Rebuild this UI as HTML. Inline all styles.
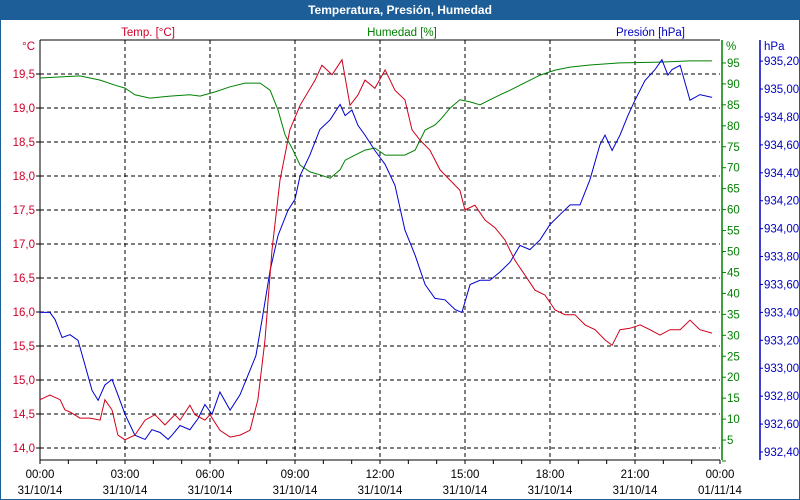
<!DOCTYPE html>
<html><head><meta charset="utf-8"><style>
body{margin:0;background:#fff;}
svg{display:block;font-family:"Liberation Sans",sans-serif;font-size:11.5px;}
</style></head><body>
<svg id="chart" width="800" height="500">
<rect x="0" y="0" width="800" height="500" fill="#fff" stroke="#1d5e99" stroke-width="2"/>
<rect x="0" y="0" width="800" height="20" fill="#1d5e99"/>
<text x="400" y="14" text-anchor="middle" fill="#fff" font-weight="bold" font-size="12">Temperatura, Presión, Humedad</text>
<text x="148" y="36" text-anchor="middle" fill="#d0002a">Temp. [°C]</text>
<text x="402" y="36" text-anchor="middle" fill="#008000">Humedad [%]</text>
<text x="685" y="36" text-anchor="end" fill="#0000c0">Presión [hPa]</text>
<text x="35" y="50" text-anchor="end" fill="#d0002a">°C</text>
<text x="726" y="50" fill="#008000">%</text>
<text x="764" y="50" fill="#0000c0">hPa</text>
<g id="grid"></g><g id="axes"></g><g id="series"></g>
</svg>
<script>
const tempTicks=[14.0,14.5,15.0,15.5,16.0,16.5,17.0,17.5,18.0,18.5,19.0,19.5];
const humTicks=[0,5,10,15,20,25,30,35,40,45,50,55,60,65,70,75,80,85,90,95];
const presTicks=[932.4,932.6,932.8,933.0,933.2,933.4,933.6,933.8,934.0,934.2,934.4,934.6,934.8,935.0,935.2];
const timeTicks=[0,3,6,9,12,15,18,21,24];
const timeLabels=["00:00","03:00","06:00","09:00","12:00","15:00","18:00","21:00","00:00"];
const dateLabels=["31/10/14","31/10/14","31/10/14","31/10/14","31/10/14","31/10/14","31/10/14","31/10/14","01/11/14"];
const tempTime=[0,.35,.71,.88,1.06,1.41,1.76,2.12,2.29,2.54,2.75,3.0,3.35,3.71,4.06,4.41,4.76,4.94,5.29,5.47,5.82,6.0,6.35,6.71,7.06,7.41,7.69,7.94,8.19,8.47,8.82,9.18,9.71,9.95,10.31,10.66,10.94,11.22,11.47,11.82,12.18,12.53,12.88,13.13,13.41,13.76,14.12,14.47,14.82,15.0,15.35,15.71,16.06,16.41,16.76,17.12,17.47,17.82,18.18,18.53,18.88,19.24,19.59,19.94,20.19,20.47,20.82,21.18,21.53,21.88,22.24,22.59,22.94,23.29,23.72];
const tempValues=[14.71,14.78,14.71,14.56,14.53,14.44,14.44,14.41,14.71,14.56,14.19,14.12,14.19,14.41,14.49,14.34,14.49,14.41,14.63,14.49,14.41,14.49,14.26,14.16,14.19,14.26,14.71,15.59,16.91,17.94,18.68,19.04,19.41,19.63,19.49,19.71,19.04,19.19,19.41,19.29,19.56,19.26,19.12,18.68,18.53,18.38,18.09,17.94,17.79,17.50,17.57,17.35,17.24,17.06,16.76,16.54,16.32,16.25,16.03,15.96,15.96,15.81,15.74,15.59,15.51,15.74,15.76,15.81,15.74,15.66,15.74,15.74,15.88,15.74,15.69];
const humTime=[0,1.41,2.12,2.65,3.0,3.35,3.88,4.59,5.29,5.65,6.18,6.71,7.24,7.77,8.12,8.4,8.65,8.93,9.18,9.53,9.88,10.24,10.59,10.77,11.12,11.47,11.82,12.18,12.53,12.88,13.24,13.59,13.94,14.12,14.47,14.82,15.18,15.53,15.88,16.24,16.59,16.94,17.3,17.65,18.18,18.71,19.41,20.47,21.88,22.94,23.72];
const humValues=[91.4,91.9,90.9,89.7,89.0,87.4,86.6,87.1,87.4,87.1,88.1,89.3,90.2,90.2,88.5,83.8,77.8,74.2,70.6,69.0,68.3,67.5,69.5,71.8,73.0,74.2,74.7,73.0,73.0,73.0,74.2,79.0,80.2,81.4,84.2,86.2,85.7,85.0,86.2,87.4,88.5,89.7,90.9,92.1,93.3,94.0,94.5,95.0,95.2,95.5,95.5];
const presTime=[0,.35,.53,.78,1.06,1.34,1.59,1.84,2.05,2.29,2.54,2.75,3.0,3.35,3.71,3.95,4.24,4.52,4.66,4.94,5.29,5.58,5.82,6.07,6.35,6.71,7.06,7.34,7.62,7.84,8.12,8.4,8.75,9.0,9.18,9.53,9.88,10.24,10.59,10.77,11.01,11.22,11.47,11.82,12.18,12.53,12.88,13.24,13.59,13.94,14.29,14.65,14.89,15.18,15.53,15.88,16.24,16.59,16.94,17.29,17.65,18.0,18.35,18.71,19.06,19.41,19.76,19.94,20.19,20.47,20.75,21.0,21.35,21.71,21.95,22.16,22.31,22.59,22.94,23.29,23.72];
const presValues=[933.40,933.40,933.35,933.22,933.24,933.20,933.02,932.84,932.77,932.88,932.92,932.81,932.67,932.52,932.49,932.56,932.54,932.49,932.52,932.59,932.56,932.64,932.74,932.67,932.83,932.70,932.81,932.95,933.09,933.35,933.70,933.95,934.13,934.21,934.38,934.53,934.71,934.78,934.89,934.81,934.85,934.74,934.67,934.56,934.46,934.31,933.99,933.81,933.60,933.50,933.49,933.42,933.40,933.60,933.63,933.63,933.69,933.76,933.88,933.85,933.92,934.03,934.10,934.17,934.17,934.35,934.60,934.67,934.56,934.67,934.81,934.92,935.06,935.14,935.21,935.10,935.14,935.17,934.92,934.96,934.94];

const L=40,R=720,T=40,B=460;
const xS=h=>L+h*(R-L)/24;
const yT=v=>448-(v-14)*68;
const yH=v=>461-v*4.19;
const yP=v=>452-(v-932.4)*139.6;
const NS="http://www.w3.org/2000/svg";
function mk(tag,parent,attrs){const e=document.createElementNS(NS,tag);for(const k in attrs)e.setAttribute(k,attrs[k]);document.getElementById(parent).appendChild(e);return e;}
tempTicks.forEach(v=>{const y=yT(v);
const g=mk('line','grid',{x1:L,x2:R,y1:y,y2:y,stroke:'#000','stroke-dasharray':'4,3'});


mk('line','axes',{x1:L-4,x2:L,y1:y,y2:y,stroke:'#000'});
const t=mk('text','axes',{x:35,y:y+4,'text-anchor':'end',fill:'#d0002a'});t.textContent=v.toFixed(1).replace('.',',');

});
timeTicks.forEach((h,i)=>{const x=xS(h);
if(i>0&&i<timeTicks.length-1){const g=mk('line','grid',{x1:x,x2:x,y1:T,y2:B,stroke:'#000','stroke-dasharray':'4,3'});

}
const a=mk('text','axes',{x:x,y:478,'text-anchor':'middle',fill:'#000'});a.textContent=timeLabels[i];


const b=mk('text','axes',{x:x,y:494,'text-anchor':'middle',fill:'#000'});b.textContent=dateLabels[i];

});
for(let h=0;h<=24;h++){const x=xS(h);mk('line','axes',{x1:x,x2:x,y1:B,y2:B+4,stroke:'#000'});}
mk('line','axes',{x1:L,x2:L,y1:T,y2:B,stroke:'#000'});
mk('line','axes',{x1:L,x2:R,y1:T,y2:T,stroke:'#000'});
mk('line','axes',{x1:L,x2:R,y1:B,y2:B,stroke:'#000'});
mk('line','axes',{x1:722,x2:722,y1:T,y2:B,stroke:'#008000','stroke-width':1.5});
mk('line','axes',{x1:760,x2:760,y1:T,y2:B,stroke:'#0000c0','stroke-width':1.5});
humTicks.forEach(v=>{const y=yH(v);mk('line','axes',{x1:722,x2:726,y1:y,y2:y,stroke:'#008000'});
if(v>0){const t=mk('text','axes',{x:727,y:y+4,fill:'#008000'});t.textContent=v;

}});
presTicks.forEach(v=>{const y=yP(v);mk('line','axes',{x1:760,x2:763,y1:y,y2:y,stroke:'#0000c0'});
const t=mk('text','axes',{x:764,y:y+4,fill:'#0000c0'});t.textContent=v.toFixed(2).replace('.',',');

});
function line(ts,vs,yf,col,name){const n=Math.min(ts.length,vs.length);let d='';for(let i=0;i<n;i++)d+=(i?'L':'M')+xS(ts[i]).toFixed(1)+','+yf(vs[i]).toFixed(1);
const p=mk('path','series',{d:d,fill:'none',stroke:col,'stroke-width':1});

}
line(humTime,humValues,yH,'#008000','humidity-line');
line(presTime,presValues,yP,'#0000d0','pressure-line');
line(tempTime,tempValues,yT,'#d0001a','temperature-line');
</script>
</body></html>
